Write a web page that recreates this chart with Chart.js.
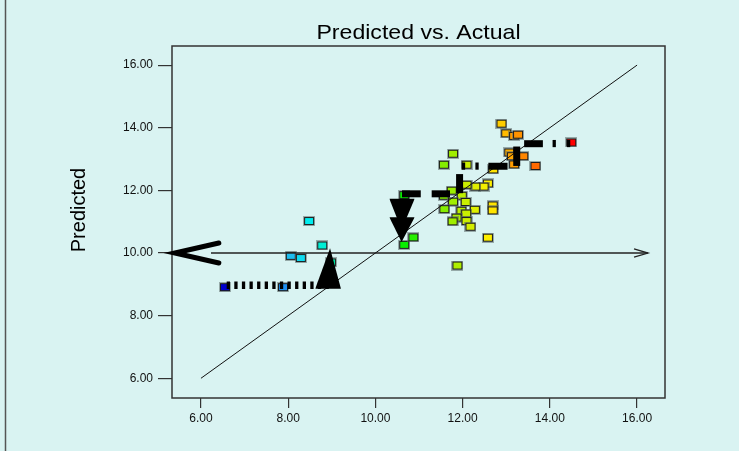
<!DOCTYPE html>
<html><head><meta charset="utf-8">
<script src="https://cdn.jsdelivr.net/npm/chart.js@4/dist/chart.umd.min.js"></script>
<style>html,body{margin:0;padding:0;background:#d9f3f2;overflow:hidden}canvas{display:block}</style>
</head><body><canvas id="c" width="739" height="451"></canvas>
<script>
// ---- data ----
const titleText = 'Predicted vs. Actual';
const yTitle = 'Predicted';
const actual = [6.55, 7.88, 8.06, 8.29, 8.48, 8.78, 8.98, 10.66, 10.87, 10.66,
  12.89, 13.00, 13.18, 13.27, 14.49, 11.78, 11.57, 12.09, 13.07, 13.13,
  13.39, 13.18, 13.67, 12.70, 12.58, 12.48, 12.29, 12.09, 11.75, 11.57,
  11.98, 11.78, 12.07, 11.58, 11.97, 12.28, 12.69, 12.69, 12.08, 11.86,
  11.77, 12.09, 12.18, 12.58, 11.88];
const predicted = [8.91, 8.91, 9.91, 9.84, 11.02, 10.24, 9.70, 10.26, 10.50, 11.85,
  14.13, 13.82, 13.74, 13.78, 13.53, 13.17, 12.82, 12.82, 13.21, 13.09,
  13.09, 12.83, 12.78, 12.67, 12.22, 12.12, 12.12, 12.18, 11.99, 11.83,
  11.83, 11.64, 11.63, 11.40, 11.35, 11.38, 11.52, 11.36, 11.26, 11.13,
  11.01, 11.02, 10.84, 10.49, 9.60];
const xTicks = [6, 8, 10, 12, 14, 16];
const yTicks = [6, 8, 10, 12, 14, 16];
const xTickLabels = ['6.00', '8.00', '10.00', '12.00', '14.00', '16.00'];
const yTickLabels = ['6.00', '8.00', '10.00', '12.00', '14.00', '16.00'];
const xRange = [5.336, 16.64];
const yRange = [5.37, 16.61];

// reference line and annotation marks (data units)
const diagonal = [[6, 6], [16, 16]];
const hLine = [[6.23, 10], [16.25, 10]];
const hArrowHead = [[15.93, 10.13], [16.25, 10], [15.93, 9.87]];
const chevron = [[6.41, 10.32], [5.40, 10.0], [6.41, 9.68]];
const dotted = [[6.59, 8.97], [8.96, 8.97]];
const triUp = [[8.62, 8.86], [8.96, 10.15], [9.21, 8.86]];
const triDown1 = [[10.32, 11.73], [10.60, 10.74], [10.90, 11.73]];
const triDown2 = [[10.32, 11.14], [10.60, 10.35], [10.90, 11.14]];
const hBars = [[10.61, 11.04, 11.89], [11.29, 11.71, 11.89], [12.59, 13.03, 12.77], [13.41, 13.84, 13.49]];
const vBarsThick = [[11.93, 11.91, 12.52], [13.24, 12.78, 13.40]];
const vBarsThin = [[12.02, 12.66, 12.89], [12.33, 12.66, 12.89], [14.10, 13.38, 13.61], [14.43, 13.38, 13.61]];

// ---- style helpers ----
const colorStops = [
  [6.55, [0, 0, 205]], [7.9, [30, 144, 240]], [8.1, [30, 200, 240]], [8.5, [0, 238, 238]],
  [8.8, [0, 238, 210]], [9.0, [0, 238, 160]], [10.6, [0, 238, 0]], [11.6, [136, 238, 0]],
  [12.1, [204, 238, 0]], [12.6, [255, 238, 0]], [12.9, [255, 204, 0]], [13.2, [255, 153, 0]],
  [13.7, [255, 102, 0]], [14.49, [255, 0, 0]]];
function colorFor(v) {
  if (v <= colorStops[0][0]) return 'rgb(' + colorStops[0][1].join(',') + ')';
  for (let i = 1; i < colorStops.length; i++) {
    const [v1, c1] = colorStops[i];
    const [v0, c0] = colorStops[i - 1];
    if (v <= v1) {
      const t = (v - v0) / (v1 - v0);
      return 'rgb(' + c0.map((c, k) => Math.round(c + (c1[k] - c) * t)).join(',') + ')';
    }
  }
  return 'rgb(255,0,0)';
}
const markerCache = {};
function markerCanvas(col) {
  if (markerCache[col]) return markerCache[col];
  const c = document.createElement('canvas');
  c.width = 12; c.height = 10;
  const g = c.getContext('2d');
  g.fillStyle = 'rgba(95,110,110,0.55)'; g.fillRect(0, 0, 12, 10);
  g.fillStyle = '#1c1c1c'; g.fillRect(1, 1, 10, 8);
  g.fillStyle = col; g.fillRect(2, 2, 8, 6);
  markerCache[col] = c;
  return c;
}
const pts = arr => arr.map(p => ({x: p[0], y: p[1]}));
function lineDs(points, width, extra) {
  return Object.assign({
    type: 'line', data: pts(points), borderColor: '#000', borderWidth: width,
    pointRadius: 0, fill: false, tension: 0, borderCapStyle: 'butt', order: 2, clip: false
  }, extra || {});
}
function triDs(points) {
  return lineDs(points, 0, {fill: {target: {value: points[0][1]}}, backgroundColor: '#000', order: 1});
}

const datasets = [];
datasets.push({
  type: 'scatter', data: actual.map((a, i) => ({x: a, y: predicted[i]})),
  pointStyle: c => markerCanvas(colorFor(actual[c.dataIndex])), pointRadius: 5, order: 10
});
datasets.push(lineDs(diagonal, 1, {borderColor: '#111', order: 5}));
datasets.push(lineDs(hLine, 1.3, {borderColor: '#222', order: 5}));
datasets.push(lineDs(hArrowHead, 1.3, {borderColor: '#222', order: 5}));
datasets.push(lineDs(chevron, 5, {borderCapStyle: 'round', borderJoinStyle: 'miter'}));
datasets.push(lineDs(dotted, 7.3, {borderDash: [3.3, 4.3]}));
datasets.push(triDs(triUp));
datasets.push(triDs(triDown1));
datasets.push(triDs(triDown2));
hBars.forEach(b => datasets.push(lineDs([[b[0], b[2]], [b[1], b[2]]], 7)));
vBarsThick.forEach(b => datasets.push(lineDs([[b[0], b[1]], [b[0], b[2]]], 7)));
vBarsThin.forEach(b => datasets.push(lineDs([[b[0], b[1]], [b[0], b[2]]], 3.3)));

const framePlugin = {
  id: 'frame',
  beforeDraw(chart) {
    const {ctx, width, height} = chart;
    ctx.save();
    ctx.fillStyle = '#d9f3f2';
    ctx.fillRect(0, 0, width, height);
    ctx.strokeStyle = '#555';
    ctx.lineWidth = 1.5;
    ctx.beginPath(); ctx.moveTo(5.5, 0); ctx.lineTo(5.5, height); ctx.stroke();
    ctx.restore();
  },
  beforeDatasetsDraw(chart) {
    const {ctx, chartArea: a} = chart;
    ctx.save();
    ctx.strokeStyle = '#333';
    ctx.lineWidth = 1.5;
    ctx.strokeRect(a.left, a.top, a.right - a.left, a.bottom - a.top);
    ctx.restore();
  },
  afterDraw(chart) {
    const {ctx, chartArea: a} = chart;
    ctx.save();
    ctx.fillStyle = '#000';
    ctx.font = '21px "Liberation Sans", Arial, sans-serif';
    ctx.textAlign = 'center';
    ctx.textBaseline = 'alphabetic';
    ctx.translate((a.left + a.right) / 2, 38.5);
    ctx.scale(1.1, 1);
    ctx.fillText(titleText, 0, 0);
    ctx.restore();
    ctx.save();
    ctx.fillStyle = '#000';
    ctx.font = '20px "Liberation Sans", Arial, sans-serif';
    ctx.textAlign = 'center';
    ctx.textBaseline = 'alphabetic';
    ctx.translate(85, 210);
    ctx.rotate(-Math.PI / 2);
    ctx.fillText(yTitle, 0, 0);
    ctx.restore();
  }
};

const tickFont = {family: '"Liberation Sans", Arial, sans-serif', size: 12};
new Chart(document.getElementById('c'), {
  type: 'scatter',
  data: {datasets},
  options: {
    responsive: false,
    animation: false,
    layout: {padding: {left: 0, right: 74, top: 46, bottom: 0}},
    plugins: {legend: {display: false}, tooltip: {enabled: false}, title: {display: false}},
    scales: {
      x: {
        type: 'linear', min: xRange[0], max: xRange[1],
        afterBuildTicks: s => { s.ticks = xTicks.map(v => ({value: v})); },
        afterFit: s => { s.height = 53; },
        grid: {drawOnChartArea: false, drawTicks: true, tickLength: 10, color: '#333', lineWidth: 1.2},
        border: {display: false},
        ticks: {padding: 3, color: '#111', font: tickFont, maxRotation: 0, autoSkip: false,
          callback: (v, i) => xTickLabels[i]}
      },
      y: {
        type: 'linear', min: yRange[0], max: yRange[1],
        afterBuildTicks: s => { s.ticks = yTicks.map(v => ({value: v})); },
        afterFit: s => { s.width = 172; },
        grid: {drawOnChartArea: false, drawTicks: true, tickLength: 14, color: '#333', lineWidth: 1.2},
        border: {display: false},
        ticks: {padding: 5, color: '#111', font: tickFont, autoSkip: false,
          callback: (v, i) => yTickLabels[i]}
      }
    }
  },
  plugins: [framePlugin]
});
</script>
</body></html>
